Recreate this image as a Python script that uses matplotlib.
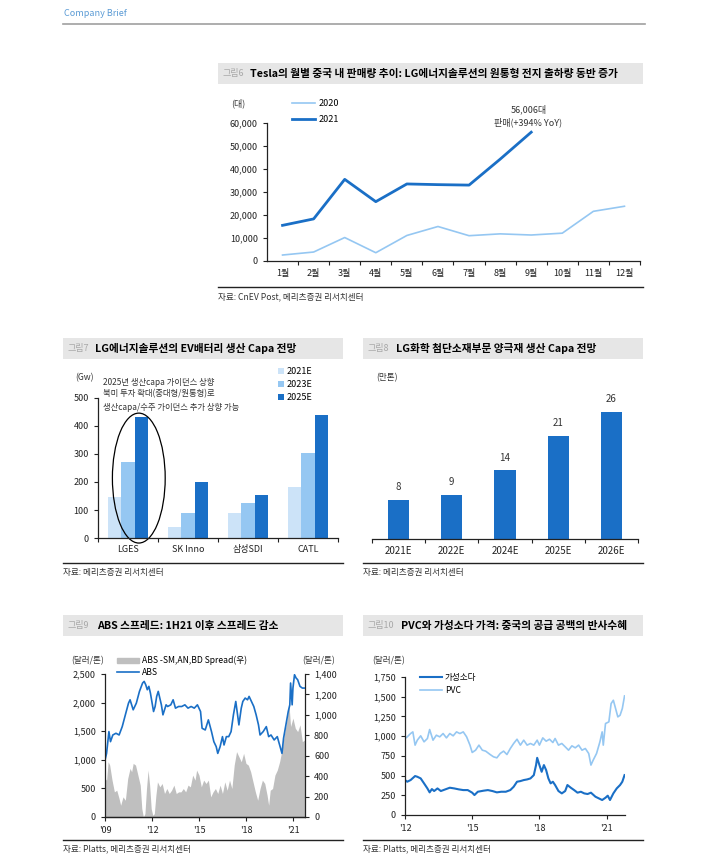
import numpy as np
import matplotlib
matplotlib.use("Agg")
import matplotlib.pyplot as plt
from matplotlib.patches import Rectangle, Ellipse, Patch
from matplotlib.lines import Line2D
from matplotlib.ticker import FuncFormatter

plt.rcParams['font.family'] = ['Noto Sans CJK KR', 'DejaVu Sans']
plt.rcParams['axes.unicode_minus'] = False

# ---------------- data ----------------
# 그림6: Tesla China monthly sales
months = ['1월', '2월', '3월', '4월', '5월', '6월', '7월', '8월', '9월', '10월', '11월', '12월']
tesla_2020 = [2600, 3900, 10200, 3600, 11100, 15000, 11000, 11800, 11300, 12100, 21600, 23800]
tesla_2021 = [15500, 18300, 35500, 25800, 33500, 33200, 33000, 44264, 56006]

# 그림7: EV battery capa (GWh)
makers = ['LGES', 'SK Inno', '삼성SDI', 'CATL']
capa_2021 = [148, 40, 90, 182]
capa_2023 = [270, 88, 125, 302]
capa_2025 = [432, 200, 152, 440]

# 그림8: cathode capa (만톤)
cathode_years = ['2021E', '2022E', '2024E', '2025E', '2026E']
cathode_capa = [8, 9, 14, 21, 26]

# 그림9: ABS price (left) and spread (right)
abs_t = [2009.0, 2009.1, 2009.25, 2009.35, 2009.5, 2009.7, 2009.9, 2010.1, 2010.3, 2010.5,
         2010.6, 2010.8, 2011.0, 2011.2, 2011.4, 2011.5, 2011.6, 2011.7, 2011.8, 2011.9,
         2012.1, 2012.2, 2012.3, 2012.4, 2012.6, 2012.7, 2012.9, 2013.0, 2013.2, 2013.35,
         2013.5, 2013.7, 2013.9, 2014.1, 2014.3, 2014.5, 2014.7, 2014.9, 2015.1, 2015.2,
         2015.4, 2015.6, 2015.8, 2015.95, 2016.1, 2016.2, 2016.35, 2016.5, 2016.6, 2016.75,
         2016.9, 2017.05, 2017.2, 2017.35, 2017.45, 2017.55, 2017.7, 2017.8, 2017.95, 2018.1,
         2018.2, 2018.35, 2018.5, 2018.65, 2018.8, 2018.9, 2019.1, 2019.3, 2019.45, 2019.6,
         2019.8, 2020.0, 2020.15, 2020.3, 2020.4, 2020.55, 2020.7, 2020.8, 2020.85, 2020.95,
         2021.0, 2021.1, 2021.2, 2021.3, 2021.45, 2021.6, 2021.75]
abs_price = [995, 1112, 1493, 1317, 1434, 1464, 1434, 1580, 1786, 1990,
             2049, 1874, 1990, 2196, 2342, 2371, 2313, 2225, 2284, 2166,
             1844, 1932, 2108, 2196, 1961, 1786, 1961, 1932, 1961, 2049,
             1903, 1932, 1932, 1961, 1903, 1932, 1903, 1961, 1844, 1551,
             1522, 1698, 1493, 1317, 1230, 1112, 1230, 1405, 1259, 1405,
             1405, 1493, 1786, 2020, 1815, 1610, 1903, 2020, 2079, 2049,
             2108, 2020, 1932, 1786, 1610, 1434, 1493, 1580, 1405, 1434,
             1347, 1405, 1259, 1112, 1376, 1610, 1844, 1961, 2342, 1961,
             2254, 2488, 2430, 2401, 2284, 2254, 2254]

spread_t = [2009.0, 2009.1, 2009.2, 2009.3, 2009.45, 2009.6, 2009.75, 2009.9, 2010.0, 2010.15,
            2010.3, 2010.45, 2010.6, 2010.7, 2010.8, 2010.95, 2011.1, 2011.25, 2011.35, 2011.45,
            2011.55, 2011.65, 2011.75, 2011.85, 2011.95, 2012.05, 2012.15, 2012.25, 2012.35, 2012.5,
            2012.65, 2012.8, 2012.95, 2013.1, 2013.25, 2013.4, 2013.55, 2013.7, 2013.85, 2014.0,
            2014.15, 2014.3, 2014.45, 2014.6, 2014.75, 2014.85, 2015.0, 2015.15, 2015.3, 2015.45,
            2015.6, 2015.75, 2015.9, 2016.05, 2016.2, 2016.35, 2016.5, 2016.65, 2016.8, 2016.95,
            2017.1, 2017.25, 2017.4, 2017.55, 2017.7, 2017.85, 2018.0, 2018.15, 2018.3, 2018.45,
            2018.6, 2018.75, 2018.9, 2019.05, 2019.2, 2019.35, 2019.45, 2019.55, 2019.7, 2019.85,
            2020.0, 2020.15, 2020.3, 2020.45, 2020.6, 2020.75, 2020.85, 2021.0, 2021.15, 2021.3,
            2021.45, 2021.6, 2021.75]
spread = [377, 361, 541, 508, 361, 246, 262, 180, 115, 197,
          164, 377, 476, 443, 525, 508, 410, 312, 82, 0,
          33, 279, 459, 312, 82, 16, 33, 213, 344, 295,
          328, 230, 279, 230, 262, 312, 230, 246, 246, 279,
          246, 312, 295, 410, 361, 459, 410, 295, 361, 328,
          361, 197, 246, 279, 230, 312, 230, 344, 262, 361,
          279, 508, 640, 590, 541, 623, 525, 508, 443, 344,
          246, 164, 279, 361, 328, 213, 115, 262, 279, 410,
          459, 541, 656, 804, 935, 1099, 886, 968, 869, 836,
          902, 738, 754]

# 그림10: caustic soda / PVC prices
soda_t = [2012.0, 2012.1, 2012.25, 2012.45, 2012.55, 2012.7, 2012.85, 2013.0, 2013.1, 2013.2,
          2013.3, 2013.45, 2013.6, 2013.8, 2014.0, 2014.2, 2014.4, 2014.6, 2014.8, 2015.0,
          2015.1, 2015.25, 2015.5, 2015.7, 2015.9, 2016.1, 2016.3, 2016.5, 2016.7, 2016.85,
          2017.0, 2017.15, 2017.3, 2017.45, 2017.6, 2017.75, 2017.85, 2017.9, 2018.0, 2018.1,
          2018.2, 2018.3, 2018.4, 2018.5, 2018.6, 2018.7, 2018.85, 2019.0, 2019.15, 2019.25,
          2019.4, 2019.55, 2019.7, 2019.85, 2020.0, 2020.15, 2020.3, 2020.5, 2020.65, 2020.8,
          2020.95, 2021.05, 2021.15, 2021.3, 2021.45, 2021.6, 2021.7, 2021.8]
soda = [443, 422, 443, 494, 485, 464, 401, 337, 287, 329,
        304, 337, 304, 325, 346, 337, 325, 316, 316, 283,
        253, 295, 308, 316, 304, 287, 295, 295, 316, 358,
        422, 430, 443, 451, 464, 506, 633, 725, 633, 548,
        633, 569, 464, 401, 422, 380, 304, 274, 304, 380,
        346, 316, 283, 295, 274, 266, 283, 232, 211, 190,
        219, 245, 190, 274, 337, 380, 422, 506]

pvc_t = [2012.0, 2012.1, 2012.25, 2012.35, 2012.45, 2012.55, 2012.7, 2012.85, 2013.0, 2013.1,
         2013.25, 2013.4, 2013.55, 2013.7, 2013.85, 2014.0, 2014.15, 2014.3, 2014.45, 2014.6,
         2014.75, 2014.9, 2015.0, 2015.15, 2015.3, 2015.45, 2015.6, 2015.8, 2015.95, 2016.1,
         2016.25, 2016.4, 2016.55, 2016.7, 2016.85, 2017.0, 2017.15, 2017.3, 2017.45, 2017.6,
         2017.75, 2017.9, 2018.0, 2018.15, 2018.3, 2018.45, 2018.6, 2018.7, 2018.85, 2019.0,
         2019.15, 2019.3, 2019.45, 2019.6, 2019.75, 2019.9, 2020.05, 2020.2, 2020.3, 2020.4,
         2020.55, 2020.7, 2020.8, 2020.85, 2020.95, 2021.1, 2021.2, 2021.3, 2021.4, 2021.5,
         2021.6, 2021.7, 2021.8]
pvc = [970, 991, 1033, 1054, 886, 949, 1004, 928, 970, 1084,
       949, 1012, 991, 1033, 978, 1033, 1004, 1054, 1033, 1054,
       991, 886, 793, 822, 886, 822, 810, 767, 738, 725,
       780, 810, 767, 843, 907, 961, 886, 949, 886, 907,
       886, 949, 886, 978, 936, 961, 919, 970, 886, 907,
       865, 822, 877, 852, 886, 822, 843, 780, 633, 696,
       780, 928, 1054, 886, 1160, 1181, 1413, 1455, 1350, 1244,
       1265, 1350, 1510]

# ---------------- layout helpers (pixel coords) ----------------
W, H = 710, 860
fig = plt.figure(figsize=(W / 100, H / 100), dpi=100)

DARK = '#1a6fc6'
MID = '#95c7f2'
LIGHT = '#cce3f8'
TXT = '#333333'


def add_ax(l, t, r, b):
    return fig.add_axes([l / W, 1 - b / H, (r - l) / W, (b - t) / H])


def ftext(x, y, s, **kw):
    kw.setdefault('va', 'center')
    kw.setdefault('color', TXT)
    return fig.text(x / W, 1 - y / H, s, **kw)


def hline(x0, x1, y, color='#222222', lw=1.0):
    fig.add_artist(Line2D([x0 / W, x1 / W], [1 - y / H, 1 - y / H], color=color, lw=lw))


def title_bar(l, t, r, b, num, title, tx):
    fig.add_artist(Rectangle((l / W, 1 - b / H), (r - l) / W, (b - t) / H,
                             facecolor='#e6e6e6', edgecolor='none'))
    ftext(l + 4, (t + b) / 2, num, fontsize=6.5, color='#a8a8a8')
    ftext(tx, (t + b) / 2, title, fontsize=7.7, fontweight='bold', color='black')


def source(l, r, y_line, y_text, s):
    hline(l, r, y_line)
    ftext(l, y_text, s, fontsize=6.2)


def style(ax, fs=6.5):
    ax.spines['top'].set_visible(False)
    ax.spines['right'].set_visible(False)
    for s in ax.spines.values():
        s.set_color('#222222')
        s.set_linewidth(0.9)
    ax.tick_params(labelsize=fs, colors='#222222', length=3, width=0.8, direction='out')
    ax.patch.set_visible(False)


def legend_at(ax, handles, labels, x, y, **kw):
    return ax.legend(handles, labels, loc='upper left',
                     bbox_to_anchor=(x / W, 1 - y / H), bbox_transform=fig.transFigure,
                     frameon=False, borderpad=0, borderaxespad=0, **kw)


comma = FuncFormatter(lambda v, p: f'{int(v):,}')

# header
ftext(64, 13, 'Company Brief', fontsize=6.5, color='#5b9bd5')
hline(63, 645, 24, color='#a0a0a0', lw=1.2)

# ---------------- 그림6 ----------------
title_bar(218, 63, 643, 84, '그림6',
          'Tesla의 월별 중국 내 판매량 추이: LG에너지솔루션의 원통형 전지 출하량 동반 증가', 250)
ax6 = add_ax(267, 123, 640, 261)
style(ax6)
x6 = np.arange(1, 13)
l20, = ax6.plot(x6, tesla_2020, color=MID, lw=1.2)
l21, = ax6.plot(x6[:len(tesla_2021)], tesla_2021, color=DARK, lw=2)
ax6.set_xlim(0.5, 12.5)
ax6.set_ylim(0, 60000)
ax6.set_yticks(range(0, 60001, 10000))
ax6.yaxis.set_major_formatter(comma)
ax6.set_xticks(x6)
ax6.set_xticklabels(months)
ax6.set_xticks(np.arange(1.5, 13, 1), minor=True)
ax6.tick_params(axis='x', which='major', length=0, pad=6)
ax6.tick_params(axis='x', which='minor', length=3, width=0.8, color='#222222')
legend_at(ax6, [l20, l21], ['2020', '2021'], 292, 99, fontsize=6.5,
          handlelength=2.6, handletextpad=0.3, labelspacing=0.8)
ftext(238, 103, '(대)', fontsize=6.5, ha='center')
ftext(529, 109, '56,006대', fontsize=6.5, ha='center')
ftext(528, 122, '판매(+394% YoY)', fontsize=6.5, ha='center')
source(218, 643, 287, 297, '자료: CnEV Post, 메리츠증권 리서치센터')

# ---------------- 그림7 ----------------
title_bar(63, 338, 343, 359, '그림7', 'LG에너지솔루션의 EV배터리 생산 Capa 전망', 95)
ax7 = add_ax(98, 398, 338, 538)
style(ax7)
x7 = np.arange(len(makers))
bw = 0.22
b1 = ax7.bar(x7 - bw, capa_2021, bw, color=LIGHT)
b2 = ax7.bar(x7, capa_2023, bw, color=MID)
b3 = ax7.bar(x7 + bw, capa_2025, bw, color=DARK)
ax7.set_xlim(-0.5, 3.5)
ax7.set_ylim(0, 500)
ax7.set_yticks(range(0, 501, 100))
ax7.set_xticks(x7)
ax7.set_xticklabels(makers)
ax7.set_xticks(np.arange(-0.5, 3.6, 1), minor=True)
ax7.tick_params(axis='x', which='major', length=0, pad=5)
ax7.tick_params(axis='x', which='minor', length=3, width=0.8, color='#222222')
ax7.add_patch(Ellipse((0.18, 214), 0.88, 464, facecolor='none', edgecolor='black',
                      lw=0.9, clip_on=False))
legend_at(ax7, [b1, b2, b3], ['2021E', '2023E', '2025E'], 278, 367, fontsize=6.5,
          handlelength=0.7, handleheight=0.7, handletextpad=0.3, labelspacing=0.45)
ftext(84, 378, '(Gw)', fontsize=6.2, ha='center')
ftext(103, 382, '2025년 생산capa 가이던스 상향', fontsize=6.0)
ftext(103, 394, '북미 투자 확대(중대형/원통형)로', fontsize=6.0)
ftext(103, 407, '생산capa/수주 가이던스 추가 상향 가능', fontsize=6.0)
source(63, 343, 563, 573, '자료: 메리츠증권 리서치센터')

# ---------------- 그림8 ----------------
title_bar(363, 338, 643, 359, '그림8', 'LG화학 첨단소재부문 양극재 생산 Capa 전망', 396)
ax8 = add_ax(372, 392, 638, 539)
style(ax8, fs=7)
ax8.spines['left'].set_visible(False)
x8 = np.arange(len(cathode_years))
ax8.bar(x8, cathode_capa, 0.4, color=DARK)
for xi, v in zip(x8, cathode_capa):
    ax8.text(xi, v + 1.6, str(v), ha='center', va='bottom', fontsize=7, color=TXT)
ax8.set_xlim(-0.5, 4.5)
ax8.set_ylim(0, 30)
ax8.set_yticks([])
ax8.set_xticks(x8)
ax8.set_xticklabels(cathode_years)
ax8.set_xticks(np.arange(-0.5, 4.6, 1), minor=True)
ax8.tick_params(axis='x', which='major', length=0, pad=5)
ax8.tick_params(axis='x', which='minor', length=3, width=0.8, color='#222222')
ftext(376, 378, '(만톤)', fontsize=6.2)
source(363, 643, 563, 573, '자료: 메리츠증권 리서치센터')

# ---------------- 그림9 ----------------
title_bar(63, 615, 343, 636, '그림9', 'ABS 스프레드: 1H21 이후 스프레드 감소', 97)
ax9 = add_ax(105, 674, 305, 817)
ax9r = ax9.twinx()
style(ax9)
style(ax9r)
ax9r.spines['right'].set_visible(True)
ax9r.spines['left'].set_visible(False)
ax9.set_zorder(ax9r.get_zorder() + 1)
fill = ax9r.fill_between(spread_t, spread, color='#bfbfbf', lw=0)
labs, = ax9.plot(abs_t, abs_price, color=DARK, lw=1.2)
ax9.set_xlim(2009.0, 2021.77)
ax9.set_ylim(0, 2500)
ax9r.set_ylim(0, 1400)
ax9.set_yticks(range(0, 2501, 500))
ax9r.set_yticks(range(0, 1401, 200))
ax9.yaxis.set_major_formatter(comma)
ax9r.yaxis.set_major_formatter(comma)
ax9.set_xticks([2009, 2012, 2015, 2018, 2021])
ax9.set_xticklabels(["'09", "'12", "'15", "'18", "'21"])
legend_at(ax9, [Patch(color='#bfbfbf'), labs], ['ABS -SM,AN,BD Spread(우)', 'ABS'], 117, 656,
          fontsize=6.2, handlelength=2.6, handleheight=0.5, handletextpad=0.3, labelspacing=0.3)
ftext(88, 661, '(달러/톤)', fontsize=6.2, ha='center')
ftext(319, 661, '(달러/톤)', fontsize=6.2, ha='center')
source(63, 343, 840, 849, '자료: Platts, 메리츠증권 리서치센터')

# ---------------- 그림10 ----------------
title_bar(363, 615, 643, 636, '그림10', 'PVC와 가성소다 가격: 중국의 공급 공백의 반사수혜', 401)
ax10 = add_ax(405, 677, 625, 815)
style(ax10)
ls, = ax10.plot(soda_t, soda, color=DARK, lw=1.5)
lp, = ax10.plot(pvc_t, pvc, color=MID, lw=1.2)
ax10.set_xlim(2012.0, 2021.82)
ax10.set_ylim(0, 1750)
ax10.set_yticks(range(0, 1751, 250))
ax10.yaxis.set_major_formatter(comma)
ax10.set_xticks([2012, 2015, 2018, 2021])
ax10.set_xticklabels(["'12", "'15", "'18", "'21"])
legend_at(ax10, [ls, lp], ['가성소다', 'PVC'], 420, 673, fontsize=6.2,
          handlelength=2.6, handletextpad=0.3, labelspacing=0.5)
ftext(389, 661, '(달러/톤)', fontsize=6.2, ha='center')
source(363, 643, 840, 849, '자료: Platts, 메리츠증권 리서치센터')

fig.savefig('out.png', dpi=100)
